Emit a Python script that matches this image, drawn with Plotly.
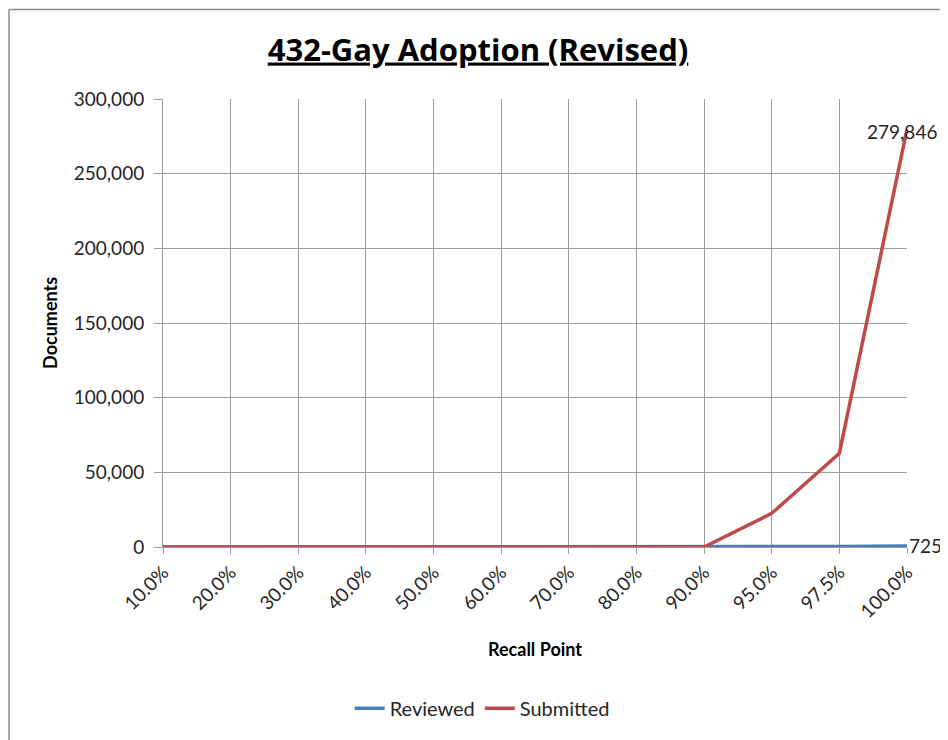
""" Recall point vs documents line chart """
import plotly.graph_objects as go

recall_points = ['10.0%', '20.0%', '30.0%', '40.0%', '50.0%', '60.0%',
                 '70.0%', '80.0%', '90.0%', '95.0%', '97.5%', '100.0%']
reviewed = [0, 0, 0, 0, 0, 0, 0, 0, 0, 150, 350, 725]
submitted = [0, 0, 0, 0, 0, 0, 0, 0, 0, 22500, 62800, 279846]

FONT = 'Lato'
TITLE_FONT = 'Open Sans'
BLUE = '#4A7EBB'
RED = '#BE4B48'
GRID = '#9c9c9c'
TEXT = '#262626'

fig = go.Figure()
fig.add_trace(go.Scatter(x=recall_points, y=reviewed, name='Reviewed', mode='lines',
                         line=dict(color=BLUE, width=3.5)))
fig.add_trace(go.Scatter(x=recall_points, y=submitted, name='Submitted', mode='lines',
                         line=dict(color=RED, width=3.5)))

# data labels on last points
fig.add_annotation(x=recall_points[-1], y=submitted[-1], text=f'{submitted[-1]:,}',
                   showarrow=False, xanchor='center', yanchor='middle', xshift=-5, yshift=-2,
                   font=dict(family=FONT, size=19, color=TEXT))
fig.add_annotation(x=recall_points[-1], y=reviewed[-1], text=f'{reviewed[-1]:,}',
                   showarrow=False, xanchor='left', yanchor='middle', xshift=0,
                   font=dict(family=FONT, size=19, color=TEXT))

fig.add_annotation(text='<b>Documents</b>', xref='paper', yref='paper', x=-0.152, y=0.5,
                   textangle=-90, showarrow=False, xanchor='center', yanchor='middle',
                   font=dict(family=FONT, size=18, color='black'))
fig.add_annotation(text='<b>Recall Point</b>', xref='paper', yref='paper', x=0.5, y=-0.227,
                   showarrow=False, xanchor='center', yanchor='middle',
                   font=dict(family=FONT, size=18, color='black'))

# chart border (left and top edges)
fig.add_shape(type='line', xref='paper', yref='paper', x0=-0.207, x1=1.1, y0=1.2, y1=1.2,
              line=dict(color='#8c8c8c', width=1.5))
fig.add_shape(type='line', xref='paper', yref='paper', x0=-0.207, x1=-0.207, y0=1.2, y1=-0.5,
              line=dict(color='#8c8c8c', width=1.5))

fig.update_layout(
    width=940, height=732,
    margin=dict(l=155, r=41, t=91, b=191),
    paper_bgcolor='white', plot_bgcolor='white',
    title=dict(text='<b>432-Gay Adoption (Revised)</b>', x=0.5, xanchor='center',
               y=0.943, yanchor='middle',
               font=dict(family=TITLE_FONT, size=31, color='black', lineposition='under')),
    xaxis=dict(type='category', range=[0, 11], showgrid=True, gridcolor=GRID, gridwidth=1,
               showline=True, linecolor=GRID, ticks='outside', ticklen=6, tickcolor=GRID,
               tickangle=-45, tickfont=dict(family=FONT, size=19, color=TEXT)),
    yaxis=dict(range=[0, 300000], dtick=50000, tickformat=',', showgrid=True, gridcolor=GRID,
               gridwidth=1, showline=True, linecolor=GRID, ticks='outside', ticklen=8,
               tickcolor=GRID, zeroline=False, ticklabelstandoff=6,
               tickfont=dict(family=FONT, size=19, color=TEXT)),
    legend=dict(orientation='h', x=0.429, xanchor='center', y=-0.36, yanchor='middle',
                font=dict(family=FONT, size=20, color=TEXT)),
    showlegend=True,
)

fig.write_html('out.html')
